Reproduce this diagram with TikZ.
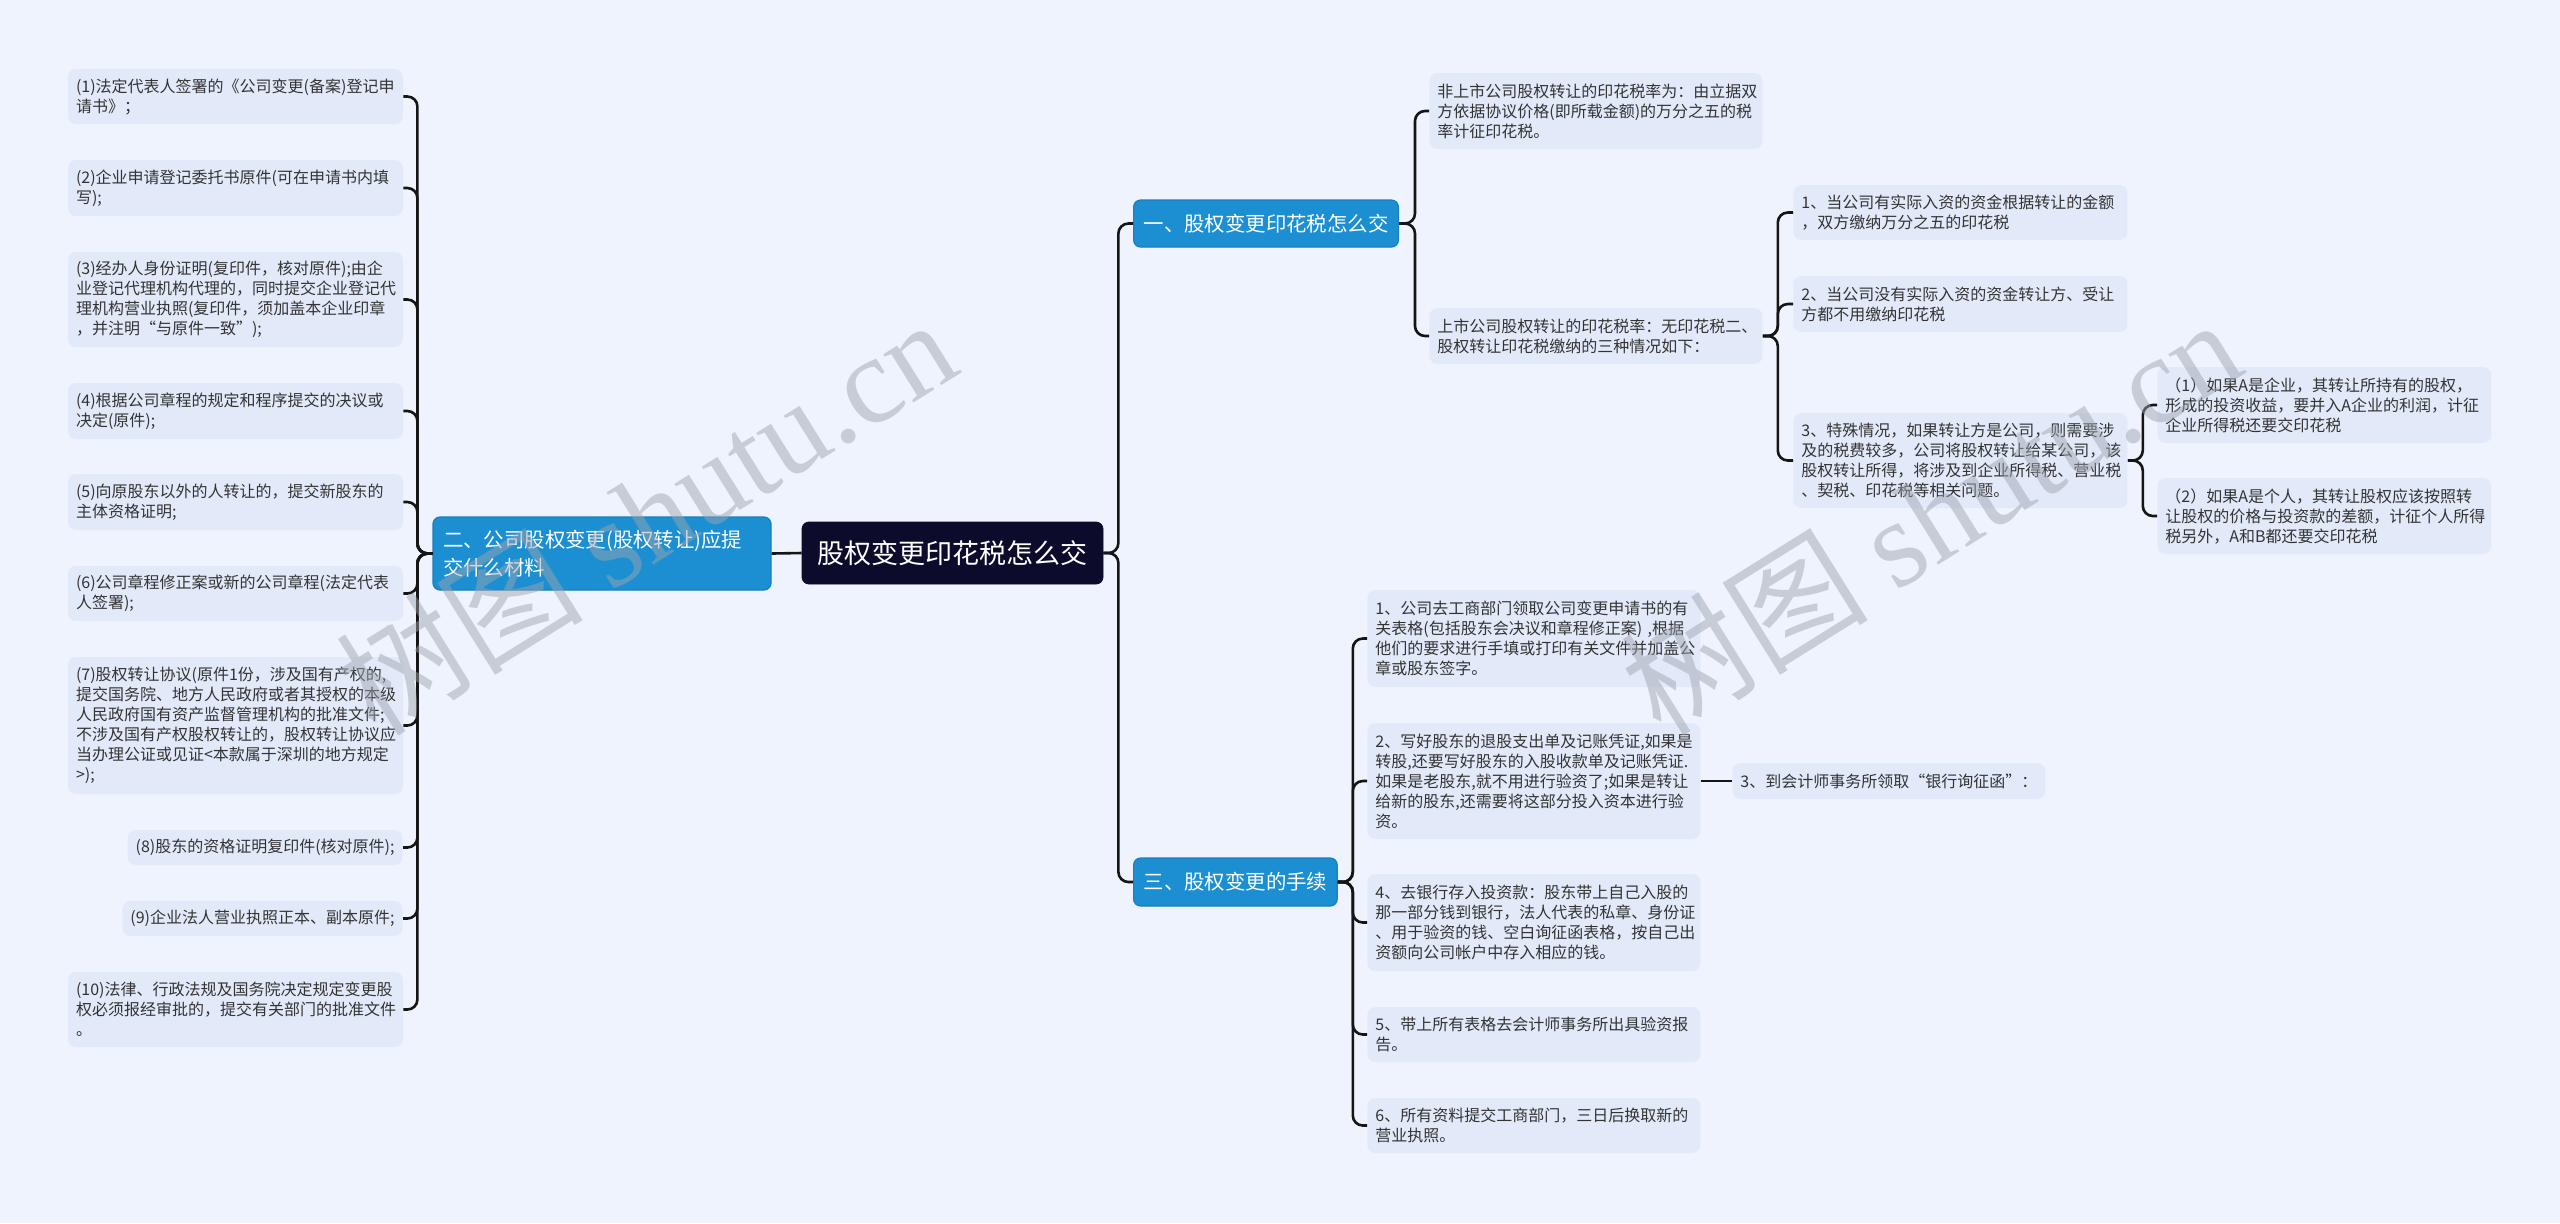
\documentclass[tikz,border=0pt]{standalone}
\usepackage{fontspec}
\setmainfont{Noto Sans CJK SC}
\newfontfamily\wmlatin{Liberation Serif}
\definecolor{bgc}{HTML}{EEF3FD}
\definecolor{leafc}{HTML}{E2EAFA}
\definecolor{textc}{HTML}{333333}
\definecolor{bluec}{HTML}{1C8FD2}
\definecolor{blueb}{HTML}{1A7FBE}
\definecolor{rootc}{HTML}{0D0B2C}
\definecolor{linec}{HTML}{151515}
\definecolor{wmc}{HTML}{9EA4AE}
\newcommand\leaffont{\fontsize{8pt}{10pt}\selectfont}
\newcommand\bluefont{\fontsize{10.2pt}{14pt}\selectfont}
\newcommand\rootfont{\fontsize{13.5pt}{16pt}\selectfont}
\newcommand\wmfont{\fontsize{62pt}{70pt}\selectfont}
\tikzset{
  conn/.style={draw=linec, line width=1.3pt, rounded corners=5pt},
  leaf/.style={fill=leafc, rounded corners=4pt, text=textc, font=\leaffont, align=left, inner xsep=4pt, inner ysep=0pt},
  lwide/.style={text width=159.5pt, anchor=center},
  rwide/.style={text width=158.5pt, anchor=west},
  cwide/.style={text width=159pt, anchor=west},
  bluebox/.style={fill=bluec, draw=blueb, line width=0.6pt, rounded corners=3.5pt, text=white, font=\bluefont, align=left, inner xsep=5pt, inner ysep=0pt},
  rootbox/.style={fill=rootc, draw=rootc, rounded corners=3.5pt, text=white, font=\rootfont, inner sep=0pt},
  wm/.style={text=wmc, opacity=0.48, rotate=32, inner sep=0pt}
}
\begin{document}
\begin{tikzpicture}[x=0.5pt,y=-0.5pt]
\useasboundingbox (0,0) rectangle (2560,1223);
\fill[bgc] (0,0) rectangle (2560,1223);

% root and main branches
\node[rootbox, minimum width=150.5pt, minimum height=31pt] (root) at (952.5,553) {股权变更印花税怎么交};
\node[bluebox, text width=159pt, minimum height=36.5pt] (n2) at (602,553.5) {二、公司股权变更(股权转让)应提\\交什么材料};
\node[bluebox, anchor=west, minimum height=23.5pt] (n1) at (1133,223.5) {一、股权变更印花税怎么交};
\node[bluebox, anchor=west, minimum height=24pt] (n3) at (1133,882) {三、股权变更的手续};

% left leaves
\node[leaf, lwide, minimum height=27.5pt] (L1) at (235.5,96.5) {(1)法定代表人签署的《公司变更(备案)登记申\\请书》；};
\node[leaf, lwide, minimum height=28pt] (L2) at (235.5,188) {(2)企业申请登记委托书原件(可在申请书内填\\写);};
\node[leaf, lwide, minimum height=47.5pt] (L3) at (235.5,299.5) {(3)经办人身份证明(复印件，核对原件);由企\\业登记代理机构代理的，同时提交企业登记代\\理机构营业执照(复印件，须加盖本企业印章\\，并注明“与原件一致”);};
\node[leaf, lwide, minimum height=28pt] (L4) at (235.5,411) {(4)根据公司章程的规定和程序提交的决议或\\决定(原件);};
\node[leaf, lwide, minimum height=28pt] (L5) at (235.5,502) {(5)向原股东以外的人转让的，提交新股东的\\主体资格证明;};
\node[leaf, lwide, minimum height=27.5pt] (L6) at (235.5,593.5) {(6)公司章程修正案或新的公司章程(法定代表\\人签署);};
\node[leaf, lwide, minimum height=68.5pt] (L7) at (235.5,725.5) {(7)股权转让协议(原件1份，涉及国有产权的,\\提交国务院、地方人民政府或者其授权的本级\\人民政府国有资产监督管理机构的批准文件;\\不涉及国有产权股权转让的，股权转让协议应\\当办理公证或见证<本款属于深圳的地方规定\\>);};
\node[leaf, anchor=east, minimum height=17.5pt] (L8) at (403,847.5) {(8)股东的资格证明复印件(核对原件);};
\node[leaf, anchor=east, minimum height=17.5pt] (L9) at (403,918.5) {(9)企业法人营业执照正本、副本原件;};
\node[leaf, lwide, minimum height=37.5pt] (L10) at (235.5,1009.5) {(10)法律、行政法规及国务院决定规定变更股\\权必须报经审批的，提交有关部门的批准文件\\。};

% branch one
\node[leaf, rwide, minimum height=38pt] (R1) at (1429,111) {非上市公司股权转让的印花税率为：由立据双\\方依据协议价格(即所载金额)的万分之五的税\\率计征印花税。};
\node[leaf, rwide, minimum height=28pt] (R2) at (1429,336) {上市公司股权转让的印花税率：无印花税二、\\股权转让印花税缴纳的三种情况如下：};
\node[leaf, cwide, minimum height=27.5pt] (C1) at (1793,212.5) {1、当公司有实际入资的资金根据转让的金额\\，双方缴纳万分之五的印花税};
\node[leaf, cwide, minimum height=28pt] (C2) at (1793,304) {2、当公司没有实际入资的资金转让方、受让\\方都不用缴纳印花税};
\node[leaf, cwide, minimum height=47.5pt] (C3) at (1793,460.5) {3、特殊情况，如果转让方是公司，则需要涉\\及的税费较多，公司将股权转让给某公司，该\\股权转让所得，将涉及到企业所得税、营业税\\、契税、印花税等相关问题。};
\node[leaf, cwide, minimum height=38pt] (G1) at (2157,405) {（1）如果A是企业，其转让所持有的股权，\\形成的投资收益，要并入A企业的利润，计征\\企业所得税还要交印花税};
\node[leaf, cwide, minimum height=38pt] (G2) at (2157,516) {（2）如果A是个人，其转让股权应该按照转\\让股权的价格与投资款的差额，计征个人所得\\税另外，A和B都还要交印花税};

% branch three
\node[leaf, rwide, minimum height=48.5pt] (S1) at (1367,638.5) {1、公司去工商部门领取公司变更申请书的有\\关表格(包括股东会决议和章程修正案) ,根据\\他们的要求进行手填或打印有关文件并加盖公\\章或股东签字。};
\node[leaf, rwide, minimum height=58pt] (S2) at (1367,781) {2、写好股东的退股支出单及记账凭证,如果是\\转股,还要写好股东的入股收款单及记账凭证.\\如果是老股东,就不用进行验资了;如果是转让\\给新的股东,还需要将这部分投入资本进行验\\资。};
\node[leaf, anchor=west, minimum height=18pt] (S3) at (1732,781) {3、到会计师事务所领取“银行询征函”：};
\node[leaf, rwide, minimum height=48.5pt] (S4) at (1367,922.5) {4、去银行存入投资款：股东带上自己入股的\\那一部分钱到银行，法人代表的私章、身份证\\、用于验资的钱、空白询征函表格，按自己出\\资额向公司帐户中存入相应的钱。};
\node[leaf, rwide, minimum height=27.5pt] (S5) at (1367,1034.5) {5、带上所有表格去会计师事务所出具验资报\\告。};
\node[leaf, rwide, minimum height=27.5pt] (S6) at (1367,1125.5) {6、所有资料提交工商部门，三日后换取新的\\营业执照。};

% connectors
\draw[conn] (root.west) -- (n2.east);
\draw[conn] (root.east) -- ++(15,0) |- (n1.west);
\draw[conn] (root.east) -- ++(15,0) |- (n3.west);
\foreach \k in {L1,L2,L3,L4,L5,L6,L7,L8,L9,L10}
  \draw[conn] (n2.west) -- ++(-15,0) |- (\k.east);
\foreach \k in {R1,R2}
  \draw[conn] (n1.east) -- ++(16,0) |- (\k.west);
\foreach \k in {C1,C2,C3}
  \draw[conn] (R2.east) -- ++(15,0) |- (\k.west);
\foreach \k in {G1,G2}
  \draw[conn] (C3.east) -- ++(15,0) |- (\k.west);
\foreach \k in {S1,S2,S4,S5,S6}
  \draw[conn] (n3.east) -- ++(15,0) |- (\k.west);
\draw[conn] (S2.east) -- (S3.west);

% watermarks
\node[wm] (wm1) at (645,515) {\wmfont 树图 {\wmlatin shutu.cn}};
\node[wm] (wm2) at (1930,515) {\wmfont 树图 {\wmlatin shutu.cn}};
\end{tikzpicture}
\end{document}
